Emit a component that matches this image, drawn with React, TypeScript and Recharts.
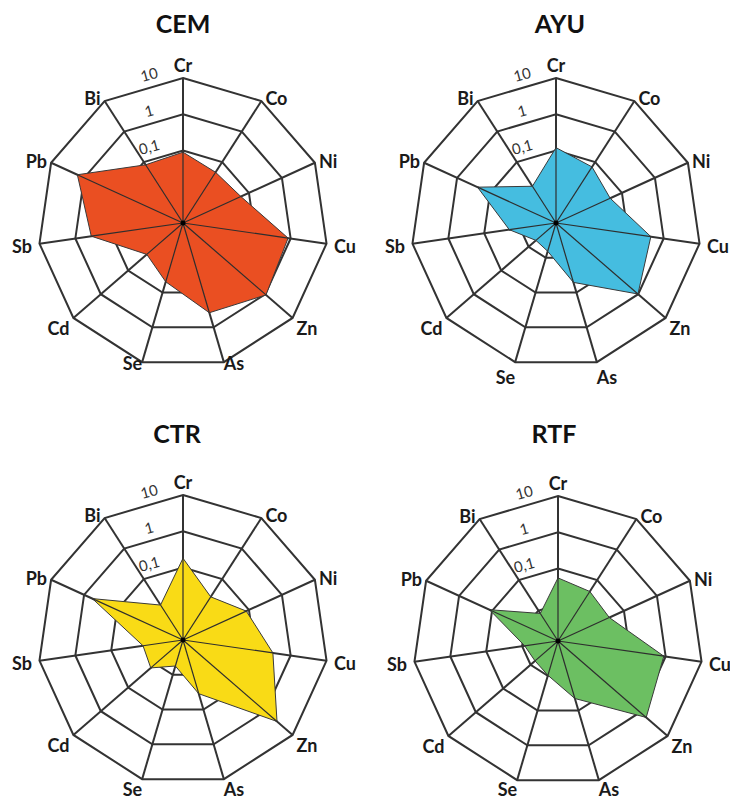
import React from 'react';
import { RadarChart, Radar, PolarGrid, PolarAngleAxis, PolarRadiusAxis } from 'recharts';

// elements on the radar axes, clockwise from the top
const elements = ['Cr', 'Co', 'Ni', 'Cu', 'Zn', 'As', 'Se', 'Cd', 'Sb', 'Pb', 'Bi'];

// values (0.001 at the centre .. 10 on the rim)
const cemValues = [0.09, 0.046, 0.057, 0.85, 1.07, 0.38, 0.049, 0.021, 0.36, 1.6, 0.081];
const ayuValues = [0.12, 0.069, 0.044, 0.44, 0.98, 0.051, 0.0065, 0.0054, 0.02, 0.24, 0.016];
const ctrValues = [0.18, 0.026, 0.083, 0.32, 2.7, 0.035, 0.0056, 0.015, 0.013, 0.56, 0.014];
const rtfValues = [0.055, 0.042, 0.036, 0.89, 1.66, 0.045, 0.0097, 0.0069, 0.0085, 0.12, 0.008];

const radiusTicks = [0.001, 0.01, 0.1, 1, 10];
const radiusLabels: Record<string, string> = { '0.1': '0,1', '1': '1', '10': '10' };

const R = 145;
const FONT = 'Lato, "Open Sans", sans-serif';

// bottomDy: how far the As / Se labels sit below their spoke ends
const panels = [
  { title: 'CEM', values: cemValues, fill: '#EA4F22', left: 0, top: 0, cx: 183, cy: 223, titleX: 183, titleY: 23, bottomDy: 1 },
  { title: 'AYU', values: ayuValues, fill: '#45BDE0', left: 365, top: 0, cx: 191, cy: 223, titleX: 195, titleY: 23, bottomDy: 15 },
  { title: 'CTR', values: ctrValues, fill: '#F9DB16', left: 0, top: 400, cx: 183, cy: 240, titleX: 177, titleY: 33, bottomDy: 10 },
  { title: 'RTF', values: rtfValues, fill: '#6CBF62', left: 365, top: 400, cx: 193, cy: 241, titleX: 189, titleY: 33, bottomDy: 9 },
];

function AngleTick(props: any) {
  const { x, y, payload, ccx, ccy, bottomDy } = props;
  const a = Math.atan2(-(y - ccy), x - ccx);
  const c = Math.cos(a);
  const s = Math.sin(a);
  const vx = ccx + R * c;
  const vy = ccy - R * s;
  let anchor: 'start' | 'end' | 'middle' = 'middle';
  let tx = vx;
  let ty = vy;
  if (Math.abs(c) < 0.1) {
    ty = vy - 13;
  } else {
    anchor = c > 0 ? 'start' : 'end';
    const gap = Math.abs(c) > 0.97 ? 7.5 : Math.abs(c) < 0.5 ? 0 : 4;
    tx = vx + (c > 0 ? gap : -gap);
    if (s > 0) ty = vy - 4 * s;
    else if (s < -0.9) ty = vy + bottomDy;
    else ty = vy - 15 * s;
  }
  return (
    <text x={tx} y={ty} textAnchor={anchor} dominantBaseline="central"
      fontFamily={FONT} fontWeight={700} fontSize={18} fill="#1a1a1a">
      {payload.value}
    </text>
  );
}

function RadiusTick(props: any) {
  const { x, y, payload } = props;
  const label = radiusLabels[String(payload.value)];
  if (!label) return null;
  const tx = x - 34;
  const ty = y - 4;
  return (
    <text x={tx} y={ty} textAnchor="middle" dominantBaseline="central"
      transform={`rotate(-15 ${tx} ${ty})`} fontFamily={FONT} fontSize={15} fill="#333">
      {label}
    </text>
  );
}

function RadarShape(props: any) {
  const { points, fill } = props;
  if (!points || !points.length) return null;
  const { cx, cy } = points[0];
  const d = points.map((p: any, i: number) => `${i ? 'L' : 'M'}${p.x},${p.y}`).join('') + 'Z';
  return (
    <g>
      <path d={d} fill={fill} stroke="#3a3a3a" strokeWidth={1} />
      {points.map((p: any, i: number) => (
        <line key={i} x1={cx} y1={cy} x2={p.x} y2={p.y} stroke="#2e2e2e" strokeWidth={1.2} />
      ))}
      <circle cx={cx} cy={cy} r={2.5} fill="#000" />
    </g>
  );
}

function Panel({ p }: { p: typeof panels[number] }) {
  const data = elements.map((el, i) => ({ element: el, value: p.values[i] }));
  return (
    <div style={{ position: 'absolute', left: p.left, top: p.top, width: 365, height: 400 }}>
      <div style={{
        position: 'absolute', left: p.titleX - 60, top: p.titleY - 16, width: 120, textAlign: 'center',
        fontFamily: FONT, fontWeight: 700, fontSize: 25, lineHeight: '32px', color: '#111',
      }}>
        {p.title}
      </div>
      <RadarChart width={365} height={400} data={data} cx={p.cx} cy={p.cy} outerRadius={R}
        margin={{ top: 0, right: 0, bottom: 0, left: 0 }}>
        <PolarGrid gridType="polygon" stroke="#333" strokeWidth={2} />
        <PolarAngleAxis dataKey="element" tickLine={false}
          tick={(t: any) => <AngleTick {...t} ccx={p.cx} ccy={p.cy} bottomDy={p.bottomDy} />} />
        <PolarRadiusAxis angle={90} scale="log" domain={[0.001, 10]} ticks={radiusTicks as any}
          axisLine={false} tickLine={false} tick={(t: any) => <RadiusTick {...t} />} />
        <Radar dataKey="value" fill={p.fill} fillOpacity={1} isAnimationActive={false}
          shape={(s: any) => <RadarShape {...s} fill={p.fill} />} />
      </RadarChart>
    </div>
  );
}

export default function App() {
  return (
    <div style={{ position: 'absolute', left: 0, top: 0, width: 731, height: 802, background: '#fff' }}>
      {panels.map(p => <Panel key={p.title} p={p} />)}
    </div>
  );
}
